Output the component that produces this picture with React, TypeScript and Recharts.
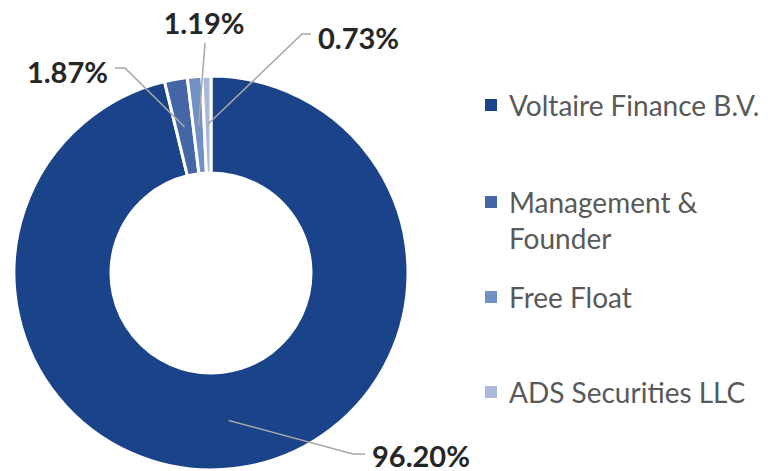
import React from "react";
import { PieChart, Pie, Cell, Legend } from "recharts";

const categories = ["Voltaire Finance B.V.", "Management & Founder", "Free Float", "ADS Securities LLC"];
const shares = [96.2, 1.87, 1.19, 0.73];
const pctLabels = ["96.20%", "1.87%", "1.19%", "0.73%"];
const legendLines = [["Voltaire Finance B.V."], ["Management &", "Founder"], ["Free Float"], ["ADS Securities LLC"]];
const colors = ["#1B4389", "#4466A6", "#7190C4", "#A7B8D9"];

const data = categories.map((name, i) => ({ name, value: shares[i], label: pctLabels[i] }));

// label layout offsets relative to pie center
const labelLayout = [
  { pts: [[142, 181], [154, 181]], tx: 161, ty: 182, anchor: "start" },
  { pts: [[-86, -205], [-96, -205]], tx: -103, ty: -202, anchor: "end" },
  { pts: [[-6, -230]], tx: -7, ty: -251, anchor: "middle" },
  { pts: [[91, -239], [100, -239]], tx: 107, ty: -236, anchor: "start" },
];
const legendRowY = [105, 202, 297, 392];

const RAD = Math.PI / 180;

const renderLabel = (props: any) => {
  const { cx, cy, midAngle, innerRadius, outerRadius, index } = props;
  const r = (innerRadius + outerRadius) / 2;
  const sx = cx + r * Math.cos(-midAngle * RAD);
  const sy = cy + r * Math.sin(-midAngle * RAD);
  const L = labelLayout[index];
  const pts = [[sx, sy], ...L.pts.map(([dx, dy]) => [cx + dx, cy + dy])];
  return (
    <g key={`lbl-${index}`}>
      <polyline
        points={pts.map((p) => p.join(",")).join(" ")}
        fill="none"
        stroke="#A6A6A6"
        strokeWidth={1.5}
      />
      <text
        x={cx + L.tx}
        y={cy + L.ty}
        textAnchor={L.anchor}
        dominantBaseline="central"
        fill="#262626"
        fontFamily="Lato, 'Open Sans', sans-serif"
        fontWeight={700}
        fontSize={29}
      >
        {data[index].label}
      </text>
    </g>
  );
};

const renderLegend = () => (
  <div style={{ position: "relative", width: 292, height: 471 }}>
    {legendLines.map((lines, i) => (
      <div key={i} style={{ position: "absolute", left: 0, top: legendRowY[i] - 18 }}>
        <div
          style={{
            position: "absolute",
            left: 0,
            top: 12,
            width: 12,
            height: 12,
            background: colors[i],
          }}
        />
        <div
          style={{
            position: "absolute",
            left: 24,
            top: 0,
            whiteSpace: "nowrap",
            fontFamily: "Lato, 'Open Sans', sans-serif",
            fontSize: 28,
            lineHeight: "36px",
            color: "#595959",
          }}
        >
          {lines.map((l, j) => (
            <div key={j}>{l}</div>
          ))}
        </div>
      </div>
    ))}
  </div>
);

export default function App() {
  return (
    <div style={{ position: "absolute", left: 0, top: 0, width: 777, height: 471, background: "#fff", overflow: "hidden" }}>
      <PieChart width={777} height={471} margin={{ top: 0, right: 0, bottom: 0, left: 0 }}>
        <Pie
          data={data}
          dataKey="value"
          nameKey="name"
          cx={211}
          cy={273}
          innerRadius={100}
          outerRadius={197}
          startAngle={90}
          endAngle={-270}
          stroke="#ffffff"
          strokeWidth={3}
          label={renderLabel}
          labelLine={false}
          isAnimationActive={false}
        >
          {data.map((d, i) => (
            <Cell key={d.name} fill={colors[i]} />
          ))}
        </Pie>
        <Legend
          content={renderLegend}
          wrapperStyle={{ position: "absolute", left: 485, top: 0, width: 292, height: 471 }}
        />
      </PieChart>
    </div>
  );
}
